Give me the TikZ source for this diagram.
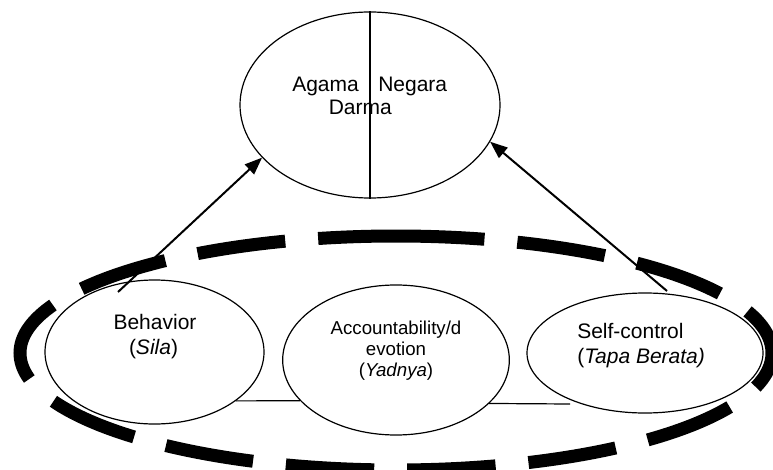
\documentclass[tikz,border=0pt]{standalone}
\usepackage{fontspec}
\setmainfont{Liberation Sans}
\usetikzlibrary{shapes.geometric,arrows.meta}
\begin{document}
\begin{tikzpicture}[x=0.75pt,y=-0.75pt,
  oval/.style={draw,ellipse,line width=0.9pt,inner sep=0pt},
  lbl/.style={inner sep=0pt,font=\fontsize{15.75}{19}\selectfont},
  sml/.style={inner sep=0pt,font=\fontsize{14}{17}\selectfont},
  conn/.style={line width=0.9pt},
  arr/.style={line width=1.5pt,-{Triangle[length=13pt,width=10pt]}},
  bigdash/.style={line width=9.75pt,dash pattern=on 66.4pt off 24.75pt}]
\useasboundingbox (0,0) rectangle (773,470);
% big dashed ellipse
\draw[bigdash] (396,236) arc[start angle=90,end angle=-270,x radius=282pt,y radius=87.75pt];
% ellipses
\node[oval,minimum width=195pt,minimum height=139.5pt] (top) at (370,105) {};
\node[oval,minimum width=164.25pt,minimum height=108pt] (beh) at (154.5,352) {};
\node[oval,minimum width=170pt,minimum height=112.5pt] (mid) at (396,360) {};
\node[oval,minimum width=177pt,minimum height=90pt] (self) at (645,353) {};
% divider in top ellipse
\draw[conn] (top.north) -- (top.south);
% texts
\node[lbl,anchor=base west] (agama) at (292,91.5) {Agama};
\node[lbl,anchor=base west] (negara) at (378,91.5) {Negara};
\node[lbl,anchor=base west] (darma) at (328.5,115) {Darma};
\node[lbl,anchor=base] (behl1) at (155,329) {Behavior};
\node[lbl,anchor=base] (behl2) at (153.5,354) {(\textit{Sila})};
\node[sml,anchor=base] (midl1) at (396,334) {Accountability/d};
\node[sml,anchor=base] (midl2) at (396,355) {evotion};
\node[sml,anchor=base] (midl3) at (396,376) {(\textit{Yadnya})};
\node[lbl,anchor=base west] (selfl1) at (577,338) {Self-control};
\node[lbl,anchor=base west] (selfl2) at (577,363) {(\textit{Tapa Berata)}};
% connectors
\coordinate (bstart) at (118,292);
\coordinate (sstart) at (667,291);
\coordinate (lineend) at (570,404);
\draw[arr] (bstart) -- (top.206);
\draw[arr] (sstart) -- (top.343);
\draw[conn] (beh.-31.3) -- (mid.203.3);
\draw[conn] (mid.-25.6) -- (lineend);
\end{tikzpicture}
\end{document}
